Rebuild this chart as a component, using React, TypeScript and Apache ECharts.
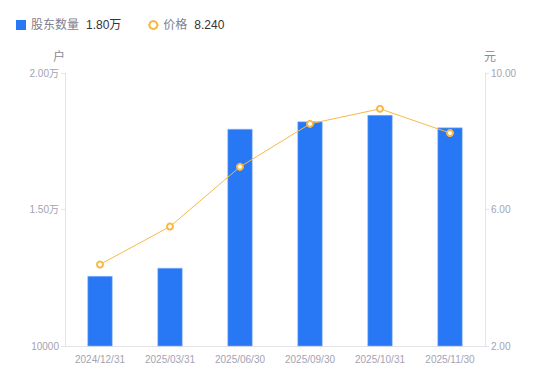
import React, { useEffect, useRef } from "react";
import * as echarts from "echarts";

const categories = ["2024/12/31", "2025/03/31", "2025/06/30", "2025/09/30", "2025/10/31", "2025/11/30"];
const holders = [12560, 12860, 17950, 18220, 18460, 18000];
const prices = [4.39, 5.5, 7.25, 8.51, 8.95, 8.24];
const leftTicks = { min: 10000, max: 20000, interval: 5000 };
const rightTicks = { min: 2, max: 10, interval: 4 };

const fmtHolders = (v: number) => (v > 10000 ? (v / 10000).toFixed(2) + "万" : String(v));
const FONT = "'Liberation Sans', Arial, 'Noto Sans CJK SC', sans-serif";

export default function App() {
  const ref = useRef<HTMLDivElement>(null);
  useEffect(() => {
    const chart = echarts.init(ref.current!, null, { renderer: "svg" });
    const lastH = holders[holders.length - 1];
    const lastP = prices[prices.length - 1];
    const axisLabel = { color: "#a3a3b3", fontSize: 10, fontFamily: FONT };
    chart.setOption({
      animation: false,
      textStyle: { fontFamily: FONT },
      legend: {
        left: 11,
        top: 14,
        itemWidth: 10,
        itemHeight: 10,
        itemGap: 26,
        data: [
          { name: "股东数量", icon: "rect", itemStyle: { borderWidth: 0 } },
          { name: "价格" },
        ],
        formatter: (name: string) =>
          name === "股东数量"
            ? `{n|${name}}{v|${fmtHolders(lastH)}}`
            : `{n|${name}}{v|${lastP.toFixed(3)}}`,
        textStyle: {
          rich: {
            n: { color: "#808090", fontSize: 12, fontFamily: FONT, padding: [0, 7, 0, 0] },
            v: { color: "#333", fontSize: 12, fontFamily: FONT },
          },
        },
      },
      grid: { left: 65, right: 65, top: 73, bottom: 35 },
      xAxis: {
        type: "category",
        data: categories,
        axisLine: { lineStyle: { color: "#e3e3e8" } },
        axisTick: { show: false },
        axisLabel: { ...axisLabel, margin: 8, interval: 0 },
      },
      yAxis: [
        {
          type: "value",
          name: "户",
          nameTextStyle: { color: "#8a8a99", fontSize: 12, fontFamily: FONT, padding: [0, 0, 0, -12] },
          nameGap: 10,
          ...leftTicks,
          axisLine: { show: true, lineStyle: { color: "#e3e3e8" } },
          axisTick: { show: true, length: 4, lineStyle: { color: "#e3e3e8" } },
          splitLine: { show: false },
          axisLabel: { ...axisLabel, formatter: fmtHolders, margin: 6 },
        },
        {
          type: "value",
          name: "元",
          nameTextStyle: { color: "#8a8a99", fontSize: 12, fontFamily: FONT, padding: [0, 0, 0, 10] },
          nameGap: 10,
          ...rightTicks,
          axisLine: { show: true, lineStyle: { color: "#e3e3e8" } },
          axisTick: { show: true, length: 4, lineStyle: { color: "#e3e3e8" } },
          splitLine: { show: false },
          axisLabel: { ...axisLabel, formatter: (v: number) => v.toFixed(2), margin: 6 },
        },
      ],
      series: [
        {
          name: "股东数量",
          type: "bar",
          data: holders,
          barWidth: 25,
          itemStyle: { color: "#2878f5", borderColor: "#8cb6fa", borderWidth: 0.5 },
        },
        {
          name: "价格",
          type: "line",
          yAxisIndex: 1,
          data: prices,
          symbol: "emptyCircle",
          symbolSize: 6,
          lineStyle: { color: "#f8b845", width: 1 },
          itemStyle: { color: "#f8b845", borderWidth: 2 },
        },
      ],
    });
    return () => chart.dispose();
  }, []);
  return <div ref={ref} style={{ width: 550, height: 381, position: "absolute", left: 0, top: 0 }} />;
}
